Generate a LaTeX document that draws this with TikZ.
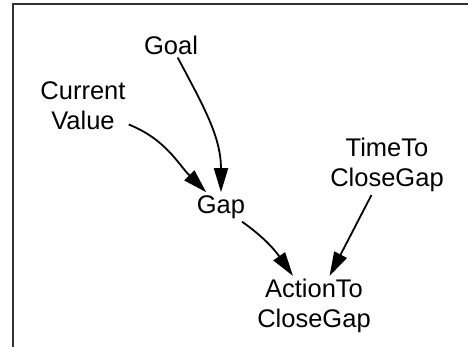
\documentclass[tikz,border=0pt]{standalone}
\usepackage{fontspec}
\setmainfont{Liberation Sans}
\usepackage{tikz}
\usetikzlibrary{arrows.meta}
\usetikzlibrary{calc}

\begin{document}
\begin{tikzpicture}[x=1pt,y=1pt,
	var/.style={align=center, inner sep=3pt, font=\fontsize{25.5}{30}\selectfont},
	link/.style={line width=1.8pt, -{Triangle[length=24pt,width=14pt]}}]
\useasboundingbox (0,0) rectangle (468,347);
\draw[line width=1.5pt, black!80] (13,0) -- (13,343) -- (468,343);
%\node (g) at (171,302) {Goal};
\node[var] (goal) at (171,302) {Goal};
\node[var] (cur) at (83,241) {Current\\Value};
\node[var] (gap) at (221,140) {Gap};
\node[var] (ttc) at (387,182) {TimeTo\\CloseGap};
\node[var] (act) at (314,41) {ActionTo\\CloseGap};
\path[link]
(cur) edge[out=-22,in=135] (gap)
(goal) edge[out=-62,in=90] (gap)
(gap) edge[out=-35,in=125] (act)
(ttc) edge (act)
;
\end{tikzpicture}
\end{document}
